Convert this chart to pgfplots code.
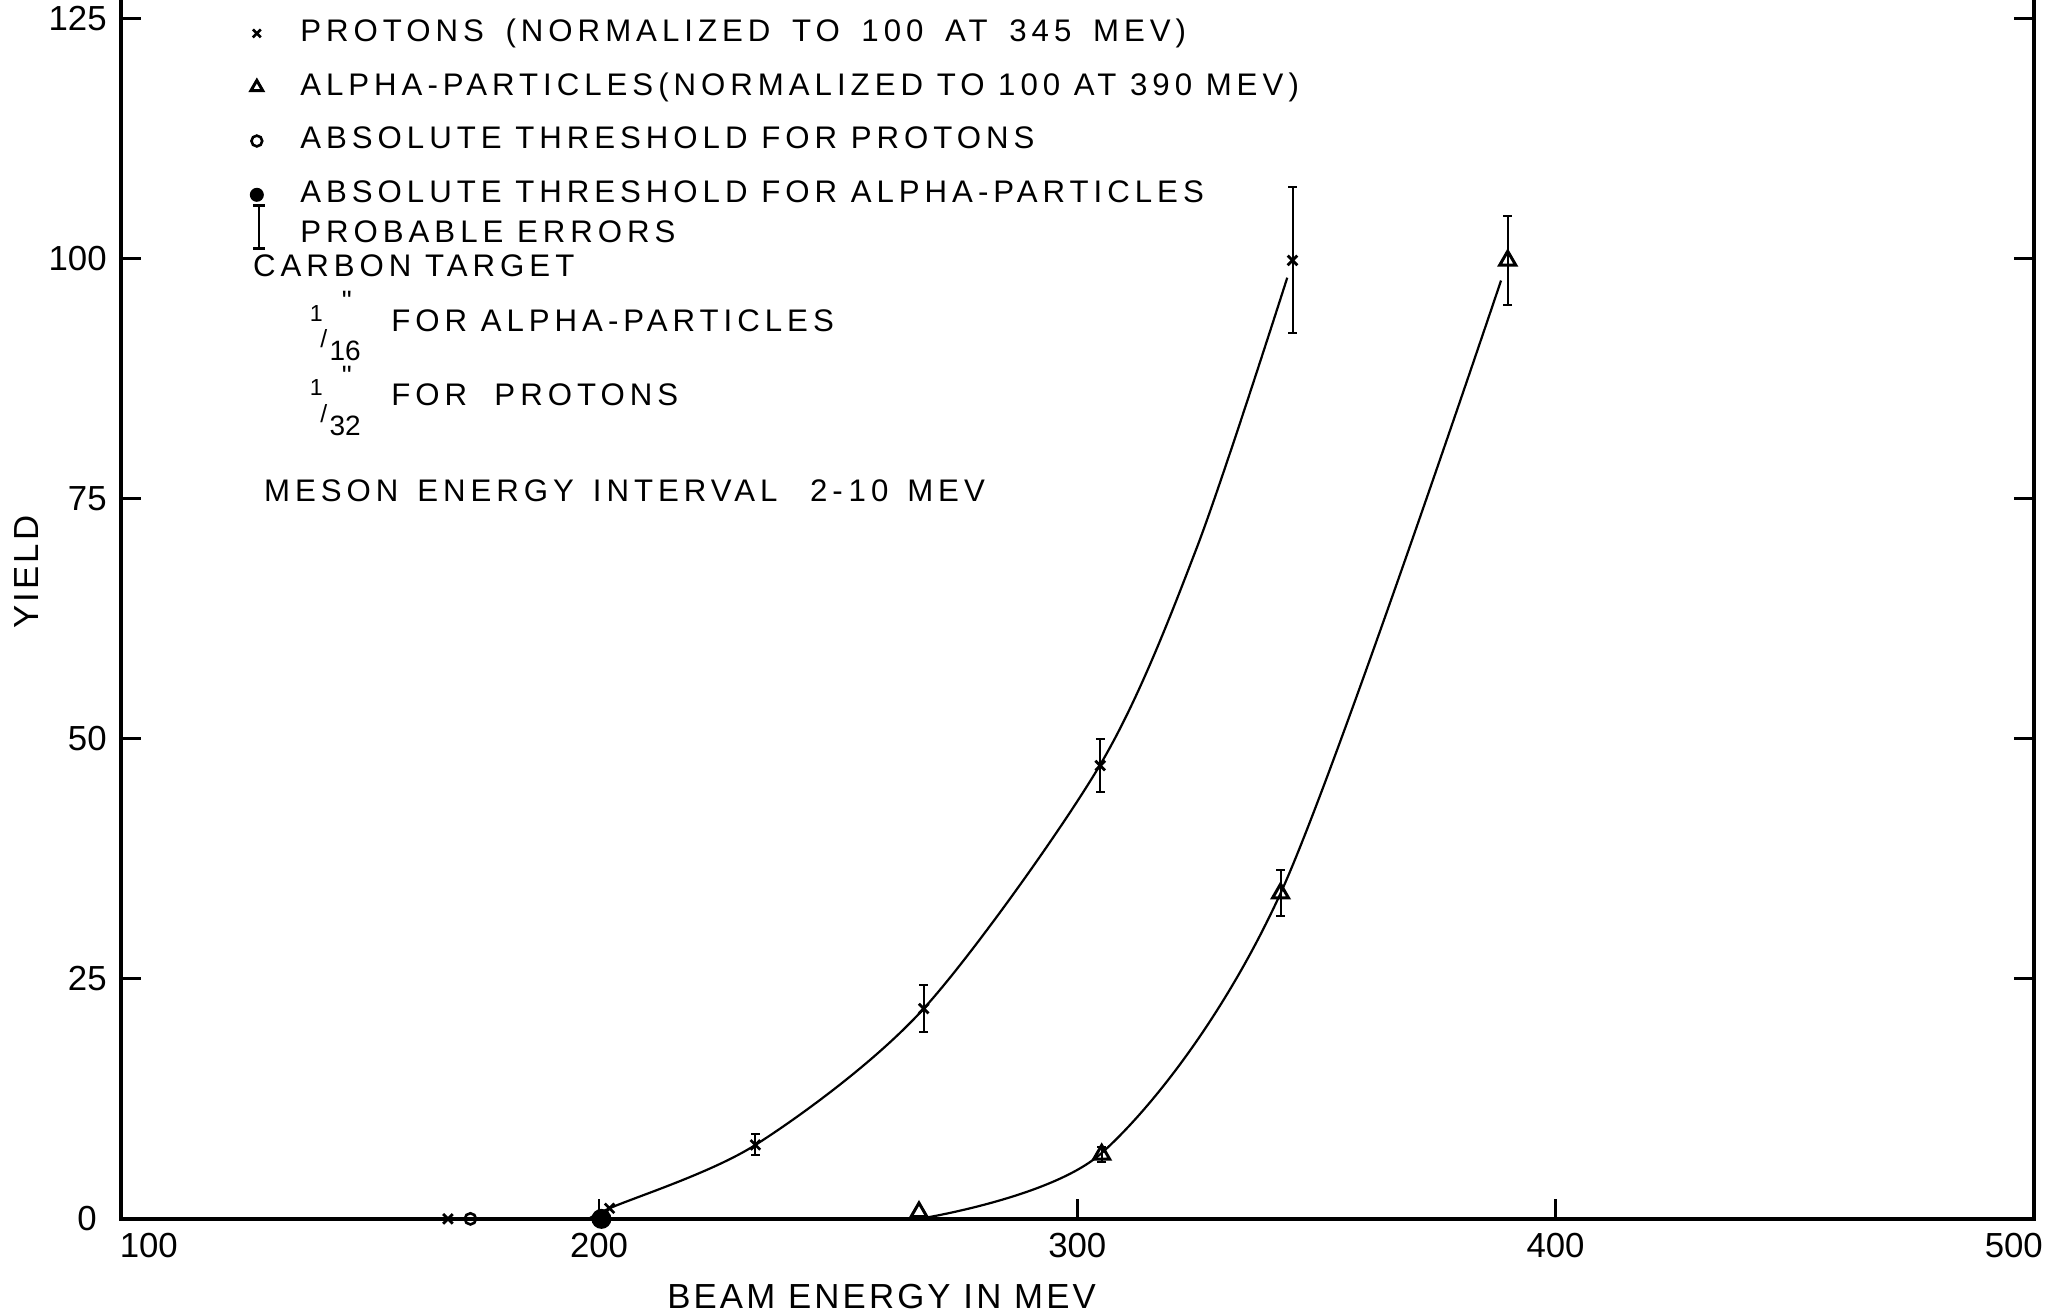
\documentclass[border=0pt]{standalone}
\usepackage{fontspec}
\setmainfont{Liberation Sans}
\newfontfamily\lettering[LetterSpace=16]{Liberation Sans}
\newfontfamily\labfont[LetterSpace=9]{Liberation Sans}
\usepackage{pgfplots}
\usepackage{pgfplotstable}
\pgfplotsset{compat=1.18}

\pgfplotstableread{
x y e
232.7 7.7 1.1
267.9 21.9 2.4
304.8 47.2 2.8
345.0 99.8 7.6
}\protonerr
\pgfplotstableread{
x y e
305.1 6.7 0.8
342.5 33.9 2.4
390.0 99.8 4.6
}\alphaerr

\newcommand{\legfont}{\lettering\fontsize{7.8}{9}\selectfont}
\newcommand{\wsp}{\hspace{2pt}}
\newcommand{\inchfrac}[1]{%
  \rlap{\kern-1.2pt\raisebox{2.3pt}{\normalfont\fontsize{5.8}{6}\selectfont 1}}%
  \rlap{\kern1.4pt\raisebox{-4.3pt}{\normalfont\fontsize{6.2}{7}\selectfont /}}%
  \rlap{\kern3.7pt\raisebox{-7.6pt}{\normalfont\fontsize{7}{8}\selectfont #1}}%
  \rlap{\kern6.8pt\raisebox{4.9pt}{\normalfont\fontsize{7}{8}\selectfont \textquotedbl}}%
  \hspace*{12pt}}

\begin{document}
\begin{tikzpicture}
\begin{axis}[
  at={(0pt,0pt)}, anchor=south west,
  scale only axis, width=478.3pt, height=307.35pt,
  xmin=100, xmax=500, ymin=0, ymax=128,
  xtick={100,200,300,400,500},
  xticklabels={\hspace*{14pt}100,200,300,400,500\hspace*{10pt}},
  ytick={0,25,50,75,100,125},
  yticklabels={0\hspace*{2.5pt},25,50,75,100,125},
  xtick pos=bottom, ytick pos=both,
  tick align=inside,
  major tick length=5pt,
  axis line style={line width=1pt},
  every tick/.style={black, line width=0.7pt},
  tick label style={font=\fontsize{8.7}{10}\selectfont},
  /pgf/number format/assume math mode=true,
  xlabel={BEAM ENERGY IN MEV},
  ylabel={YIELD},
  label style={font=\labfont\fontsize{8.7}{10}\selectfont},
  xlabel style={at={(axis description cs:0.3977,-0.063)}, anchor=center},
  ylabel style={at={(axis description cs:-0.0493,0.526)}, anchor=center},
  clip=false,
  legend image code/.code={\path[draw=none, fill=none] (-5pt,-5pt) rectangle (5pt,5pt); \draw[#1] plot coordinates {(0pt,0pt)};},
  legend style={at={(axis cs:124.1,125.6)}, anchor=north west, draw=none, fill=none,
    inner sep=0pt, row sep=3.45pt, font=\legfont, nodes={inner sep=0pt},
    /tikz/every odd column/.append style={column sep=5.86pt}},
  legend cell align=left,
]
\addlegendimage{only marks, mark=x, mark size=1.4pt, line width=0.65pt}
\addlegendentry{PROTONS\wsp{} (NORMALIZED\wsp{} TO\wsp{} 100\wsp{} AT\wsp{} 345\wsp{} MEV)}
\addlegendimage{only marks, mark=triangle, mark size=1.7pt, line width=0.75pt}
\addlegendentry{ALPHA-PARTICLES(NORMALIZED TO 100 AT 390 MEV\,)}
\addlegendimage{only marks, mark=o, mark size=1.35pt, line width=0.65pt}
\addlegendentry{ABSOLUTE THRESHOLD FOR PROTONS}
\addlegendimage{only marks, mark=*, mark size=1.55pt}
\addlegendentry{ABSOLUTE THRESHOLD FOR ALPHA-PARTICLES}
\addlegendimage{legend image code/.code={\path[draw=none, fill=none] (-5pt,-5pt) rectangle (5pt,5pt);
   \pgfinterruptboundingbox
   \draw[line width=0.6pt, yshift=5.4pt] (0.6pt,-5.4pt) -- (0.6pt,5.4pt) (-0.9pt,-5.4pt) -- (2.1pt,-5.4pt) (-0.9pt,5.4pt) -- (2.1pt,5.4pt);
   \endpgfinterruptboundingbox}}
\addlegendentry{\raisebox{3.6pt}[\height][\depth]{PROBABLE ERRORS}}

% curves drawn through the points
\addplot[forget plot, smooth, black, line width=0.55pt] coordinates {
 (198,0) (202.2,1.1) (232.7,7.7) (267.9,21.9) (304.8,47.3) (325.0,69.9) (343.9,98.0)};
\addplot[forget plot, smooth, black, line width=0.55pt] coordinates {
 (266.9,0) (305.2,6.9) (342.5,33.9) (388.6,97.7)};

% proton data
\addplot[forget plot, only marks, mark=x, mark size=1.7pt, line width=0.7pt] coordinates {
 (168.4,0) (202.2,1.1)};
\addplot[forget plot, only marks, mark=x, mark size=1.7pt, line width=0.7pt,
  error bars/.cd, y dir=both, y explicit,
  error bar style={line width=0.5pt},
  error mark options={rotate=90, mark size=1.1pt, line width=0.5pt}]
  table[x=x, y=y, y error=e] {\protonerr};

% alpha data
\addplot[forget plot, only marks, mark=triangle, mark size=2.3pt, line width=0.75pt] coordinates {
 (266.9,0.7)};
\addplot[forget plot, only marks, mark=triangle, mark size=2.3pt, line width=0.75pt,
  error bars/.cd, y dir=both, y explicit,
  error bar style={line width=0.5pt},
  error mark options={rotate=90, mark size=1.1pt, line width=0.5pt}]
  table[x=x, y=y, y error=e] {\alphaerr};

% thresholds
\addplot[forget plot, only marks, mark=o, mark size=1.4pt, line width=0.65pt] coordinates {(173.1,0)};
\addplot[forget plot, only marks, mark=*, mark size=2.3pt] coordinates {(200.5,0)};

% annotations
\node[anchor=west, inner sep=0pt, font=\legfont] at (axis cs:127.5,99.2) {CARBON TARGET};
\node[anchor=base west, inner sep=0pt] at (axis cs:140.4,92.5) {\inchfrac{16}};
\node[anchor=west, inner sep=0pt, font=\legfont] at (axis cs:156.4,93.5) {FOR ALPHA-PARTICLES};
\node[anchor=base west, inner sep=0pt] at (axis cs:140.4,84.74) {\inchfrac{32}};
\node[anchor=west, inner sep=0pt, font=\legfont] at (axis cs:156.4,85.8) {FOR\ \ PROTONS};
\node[anchor=west, inner sep=0pt, font=\legfont] at (axis cs:129.8,75.8)
  {MESON\hspace{1.3pt} ENERGY\hspace{1.3pt} INTERVAL\ \hspace{1.3pt} 2-\hspace{1.5pt}10\hspace{1.3pt} MEV};
\end{axis}
\pgfresetboundingbox
\path[use as bounding box] (-30.2pt,-24pt) rectangle (484.1pt,304.75pt);
\end{tikzpicture}
\end{document}
